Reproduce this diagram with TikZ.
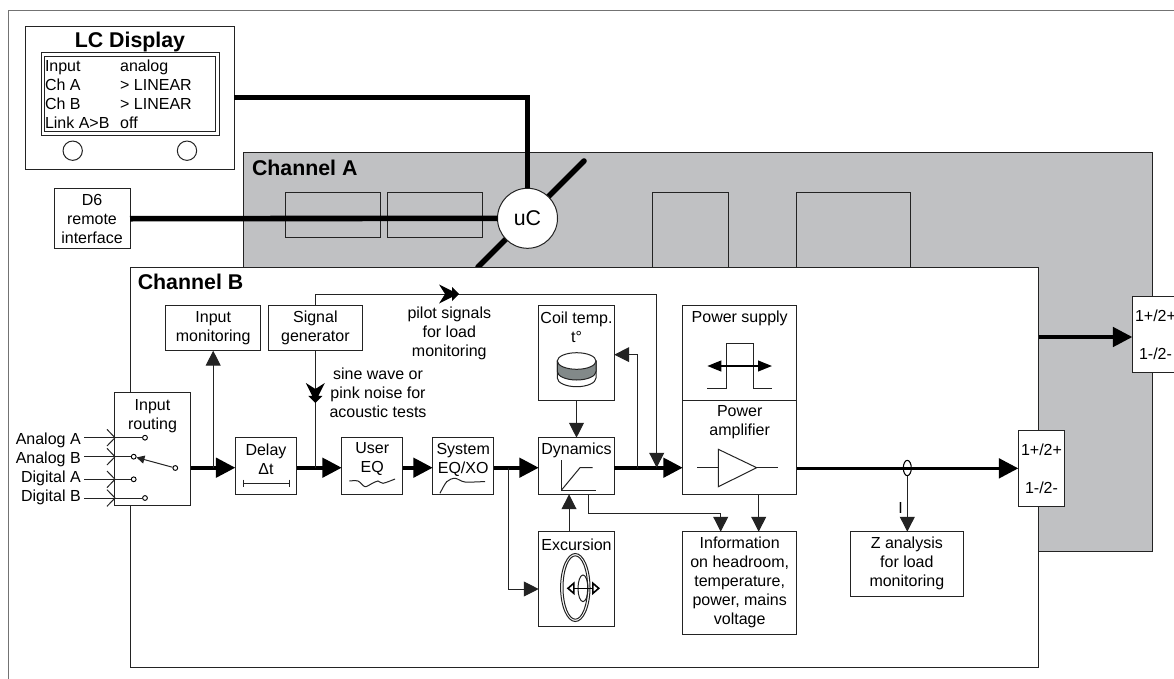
\documentclass[tikz,border=0pt]{standalone}
\usepackage{fontspec}
\setmainfont{Liberation Sans}
\usetikzlibrary{arrows.meta,decorations.markings,shapes.geometric}
\definecolor{chgray}{RGB}{192,193,195}
\definecolor{coilgray}{RGB}{130,137,137}
\definecolor{ink}{RGB}{35,35,35}
\tikzset{
  wh/.style 2 args={minimum width=#1*.75pt, minimum height=#2*.75pt},
  blk/.style={draw=ink, line width=.75pt, inner sep=0pt, outer sep=0pt, align=center,
    font=\fontsize{12}{14.25}\selectfont},
  wblk/.style={blk, fill=white},
  txt/.style={inner sep=0pt, outer sep=0pt, align=center, font=\fontsize{12}{14.25}\selectfont},
  head/.style={font=\bfseries\fontsize{16}{18}\selectfont, inner sep=0pt, outer sep=0pt},
  sig/.style={draw=ink, line width=.75pt, line join=miter, -{Triangle[length=11.2pt,width=11.2pt]}},
  flow/.style={draw=black, line width=2.7pt, -{Triangle[length=14.5pt,width=14.5pt]}},
  bus/.style={draw=black, line width=4.2pt},
  wire/.style={draw=ink, line width=.75pt},
  pin/.style={circle, draw=black, fill=white, line width=.7pt, inner sep=0pt, minimum size=3.6pt},
  barbed/.style={decoration={markings, mark=at position #1 with {
      \fill[black] (0,0) -- (-7,7) -- (-7,3) -- (-20,9.5) -- (-14,0) -- (-20,-9.5) -- (-7,-3) -- (-7,-7) -- cycle;}},
    postaction={decorate}},
}
\begin{document}
\begin{tikzpicture}[x=.75pt,y=-.75pt]
\clip (0,0) rectangle (1174,678);
\fill[white] (0,0) rectangle (1174,678);
\draw[draw=black!55, line width=.9pt] (8.4,10.7) rectangle (1200,700);

% display
\node[blk, wh={208.4}{143.3}] (lcd) at (129.8,97.65){};
\node[head] (lcdtitle) at (130,41.5){LC Display};
\node[blk, wh={178}{83.4}] (lcdscreen) at (130,94){};
\node[blk, wh={170.6}{75.7}] (lcdinner) at (129.7,93.85){};
\node[txt, anchor=west, align=left] (lcdrows) at (45,96.5){%
\begin{tabular}{@{}p{56.4pt}@{}l@{}}Input&analog\\Ch A&> LINEAR\\Ch B&> LINEAR\\Link A>B&off\end{tabular}};
\node[blk, circle, minimum size=14.5pt] (knoba) at (72.7,150.7){};
\node[blk, circle, minimum size=14.5pt] (knobb) at (187,150.7){};

% channel A
\node[blk, fill=chgray, wh={908.9}{398.7}] (cha) at (698.25,351.65){};
\node[head, anchor=west] (chatitle) at (252,168){Channel A};
\node[blk, wh={95}{45.4}] (afirst) at (332.5,215){};
\node[blk, wh={95}{45.4}] (asecond) at (434.5,215){};
\node[blk, wh={75.4}{85.4}] (athird) at (690.3,235){};
\node[blk, wh={114}{85.4}] (afourth) at (853,235){};
\coordinate (diagtop) at (584,161);
\coordinate (diagbot) at (478,267);
\draw[bus, line cap=round] (diagbot) -- (diagtop);
\node[blk, wh={76}{60}, fill=white] (dsix) at (92,218.7){D6\\remote\\interface};
\node[blk, circle, fill=white, minimum size=45pt, font=\fontsize{16}{18}\selectfont] (uc) at (527.5,218.3){uC};
\draw[bus] (lcd.east) -| (uc.north);
\draw[bus] (dsix.east) -- (uc.west);

% channel B
\node[wblk, wh={908.7}{400}] (chb) at (584.35,467){};
\node[head, anchor=west] (chbtitle) at (137.8,281.7){Channel B};
\coordinate (flowy) at (0,467.7);
\coordinate (pilotcorner) at (656.7,294);
\coordinate (tapcoil) at (637.7,467.7);
\coordinate (tapexc) at (508.7,467.7);
\coordinate (aout) at (1038.7,337);

\node[blk, wh={95}{45.4}] (imon) at (213.2,328){Input\\monitoring};
\node[blk, wh={94.7}{45.4}] (siggen) at (315.35,328){Signal\\generator};
\node[wblk, wh={76.4}{113.4}] (routing) at (152.5,449){};
\node[txt] (routingtxt) at (152.5,416){Input\\routing};
\node[blk, wh={61.4}{56.6}] (delay) at (266,466){};
\node[txt] (delaytxt) at (266,459){Delay\\Δt};
\node[blk, wh={61}{56.6}] (ueq) at (372.2,466){};
\node[txt] (ueqtxt) at (372.2,459){User\\EQ};
\node[blk, wh={61}{56.6}] (seq) at (463.2,466){};
\node[txt] (seqtxt) at (463.2,459.5){System\\EQ/XO};
\node[blk, wh={75.6}{56.6}] (dyn) at (576.5,466){};
\node[txt] (dyntxt) at (576.5,450.5){Dynamics};
\node[blk, wh={75.6}{94.7}] (coil) at (576.5,352.65){};
\node[txt] (coiltxt) at (576.5,327.5){Coil temp.\\t°};
\node[blk, wh={75.6}{95}] (exc) at (576.5,579.2){};
\node[txt] (exctxt) at (576.5,544.5){Excursion};
\node[blk, wh={114}{94.7}] (ps) at (739.7,352.65){};
\node[txt] (pstxt) at (739.7,318.2){Power supply};
\node[blk, wh={114}{94.3}] (pa) at (739.7,447.15){};
\node[txt] (patxt) at (739.7,422.5){Power\\amplifier};
\node[blk, wh={114}{102.3}] (info) at (739.7,582.85){Information\\on headroom,\\temperature,\\power, mains\\voltage};
\node[blk, wh={113.7}{64.3}] (zan) at (906.85,563.85){Z analysis\\for load\\monitoring};
\node[wblk, wh={46.4}{75.3}] (outb) at (1041.5,468.35){1+/2+\\[14.25pt]1-/2-};
\node[wblk, wh={46.4}{75.3}] (outa) at (1155.5,334.35){1+/2+\\[14.25pt]1-/2-};

\node[txt] (pilottxt) at (449.3,333.5){pilot signals\\for load\\monitoring};
\node[txt] (sinetxt) at (378,393.2){sine wave or\\pink noise for\\acoustic tests};

% inputs
\node[txt, anchor=east] (ana) at (80.7,440.5){Analog A};
\node[txt, anchor=east] (anb) at (80.7,459.2){Analog B};
\node[txt, anchor=east] (dia) at (80.7,478.2){Digital A};
\node[txt, anchor=east] (dib) at (80.7,497.2){Digital B};
\node[pin] (pina) at (145,437.7){};
\node[pin] (pinb) at (133.7,456.7){};
\node[pin] (pinc) at (133.7,479.3){};
\node[pin] (pind) at (145,498){};
\node[pin] (pivot) at (175.3,468){};
\coordinate (ina) at (84,437.7);
\coordinate (inb) at (84,456.7);
\coordinate (inc) at (84,479.3);
\coordinate (ind) at (84,498);
\draw[wire] (ina) -- (pina);
\draw[wire] (inb) -- (pinb);
\draw[wire] (inc) -- (pinc);
\draw[wire] (ind) -- (pind);
\draw[wire] (107,429.4) -- (115,437.7) -- (107,446);
\draw[wire] (107,448.4) -- (115,456.7) -- (107,465);
\draw[wire] (107,471) -- (115,479.3) -- (107,487.6);
\draw[wire] (107,489.7) -- (115,498) -- (107,506.3);
\draw[wire, -{Triangle[length=6pt,width=6pt]}] (pivot) -- (pinb);

% signal path
\node[draw=black, fill=white, ellipse, line width=.8pt, inner sep=0pt, minimum width=6pt, minimum height=11.5pt] (sense) at (907.3,468){};
\draw[flow] (routing.east |- flowy) -- (delay.west |- flowy);
\draw[flow] (delay.east |- flowy) -- (ueq.west |- flowy);
\draw[flow] (ueq.east |- flowy) -- (seq.west |- flowy);
\draw[flow] (seq.east |- flowy) -- (dyn.west |- flowy);
\draw[flow] (dyn.east |- flowy) -- (pa.west |- flowy);
\draw[flow] (pa.east |- outb.west) -- (outb.west);
\draw[flow] (aout) -- (aout -| outa.west);

\draw[sig] (imon.south |- flowy) -- (imon.south);
\draw[wire, barbed=116.25pt] (siggen.north) |- (pilotcorner);
\draw[sig] (pilotcorner) -- (pilotcorner |- flowy);
\draw[wire, barbed=39.2pt] (siggen.south) -- (siggen.south |- flowy);
\draw[sig] (tapcoil) |- ([yshift=-1.5pt]coil.east);
\draw[sig] (tapexc) |- ([yshift=-7.35pt]exc.west);
\draw[sig] (coil.south) -- (dyn.north);
\draw[sig] ([xshift=-5.6pt]exc.north) -- ([xshift=-5.6pt]dyn.south);
\draw[sig] ([xshift=8.85pt]dyn.south) -- ++(0,19) -| ([xshift=-14.25pt]info.north);
\draw[sig] ([xshift=14.25pt]pa.south) -- ([xshift=14.25pt]info.north);

\draw[sig] (sense.south) -- (sense.south |- zan.north);
\node[txt] (curlbl) at (900.7,508){I};

% little pictures inside the blocks
\draw[wire] (243.7,483.3) -- (289.3,483.3);
\draw[wire] (243.7,479.6) -- (243.7,487);
\draw[wire] (289.3,479.6) -- (289.3,487);
\draw[wire] plot[smooth] coordinates {(349.3,481) (358,481) (365,486.7) (372,483.5) (378,481) (383,483.3) (395,479)};
\draw[wire] plot[smooth] coordinates {(440,493.3) (446.7,481.7) (455,478.3) (465,482) (485,481.5)};
\draw[wire] (561.3,460) -- (561.3,490.3) -- (596,490.3);
\draw[wire] (561.3,490.3) -- (580,467.7) -- (592.7,467.7);

% coil
\draw[wire, fill=white] (557.3,361) -- (557.3,378) arc[start angle=180,end angle=0,x radius=19.35,y radius=8.7] -- (596,361) -- cycle;
\draw[wire, fill=coilgray] (557.3,361) -- (557.3,371.5) arc[start angle=180,end angle=0,x radius=19.35,y radius=8.5] -- (596,361) -- cycle;
\draw[wire, fill=white] (576.65,361) ellipse[x radius=19.35,y radius=8.3];

% power supply pulse and amplifier
\draw[wire] (707.3,388.3) -- (726,388.3) -- (726,343.3) -- (753.3,343.3) -- (753.3,388.3) -- (771.7,388.3);
\draw[draw=black, line width=1.5pt, {Triangle[length=10.5pt,width=8pt]}-{Triangle[length=10.5pt,width=8pt]}] (707.3,366) -- (772,366);
\draw[wire, line join=miter] (718.3,449.3) -- (756.7,467.7) -- (718.3,486.7) -- cycle;
\draw[wire] (697.3,467.7) -- (718.3,467.7);
\draw[wire] (756.7,467.7) -- (777.7,467.7);

% voice coil
\draw[wire] (575.3,587.5) ellipse[x radius=14.7,y radius=34];
\draw[wire] (575.3,587.5) ellipse[x radius=12.3,y radius=31.7];
\draw[wire] (583,588.3) ellipse[x radius=5,y radius=13.3];
\draw[draw=black, line width=1.2pt, {Triangle[open,fill=white,length=6pt,width=10pt]}-{Triangle[open,fill=white,length=6pt,width=10pt]}] (566.7,588.3) -- (600,588.3);
\end{tikzpicture}
\end{document}
